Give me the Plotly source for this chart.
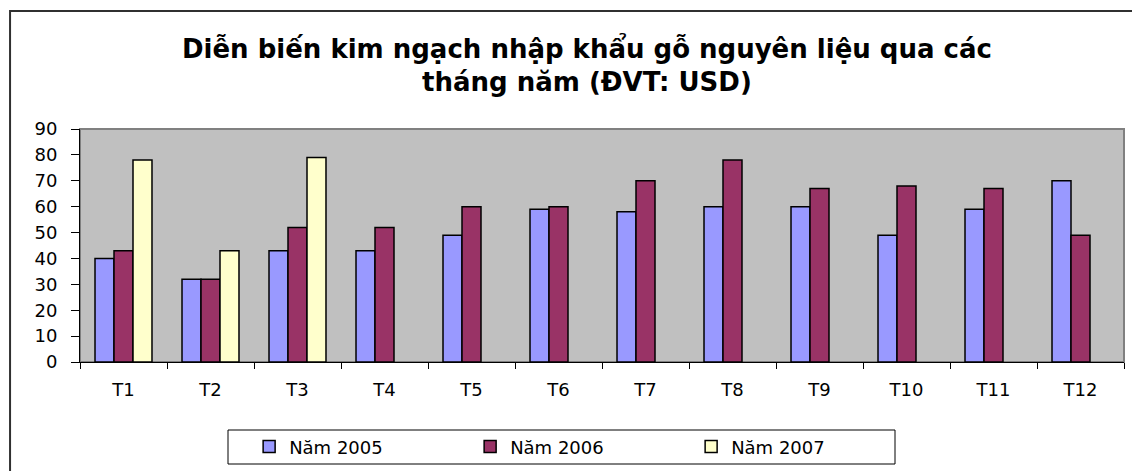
import plotly.graph_objects as go

# Monthly import values by year
months = ["T1", "T2", "T3", "T4", "T5", "T6", "T7", "T8", "T9", "T10", "T11", "T12"]
y2005 = [40, 32, 43, 43, 49, 59, 58, 60, 60, 49, 59, 70]
y2006 = [43, 32, 52, 52, 60, 60, 70, 78, 67, 68, 67, 49]
y2007 = [78, 43, 79, None, None, None, None, None, None, None, None, None]

series_names = ["Năm 2005", "Năm 2006", "Năm 2007"]
colors = ["#9999FF", "#993366", "#FFFFCC"]

FONT = "DejaVu Sans, Liberation Sans, Arial, sans-serif"

fig = go.Figure()
for name, vals, col in zip(series_names, [y2005, y2006, y2007], colors):
    fig.add_trace(go.Bar(
        x=months, y=vals, name=name,
        marker=dict(color=col, line=dict(color="black", width=1.5)),
    ))

# page body has an 8px margin, so the figure is a bit smaller than the window
fig.update_layout(
    width=1132, height=463,
    margin=dict(l=72, r=16, t=121, b=109),
    paper_bgcolor="white",
    plot_bgcolor="#C0C0C0",
    barmode="group",
    bargap=0.345,
    bargroupgap=0,
    font=dict(family=FONT, size=18, color="black"),
    title=dict(
        text="<b>Diễn biến kim ngạch nhập khẩu gỗ nguyên liệu qua các<br>tháng năm (ĐVT: USD)</b>",
        font=dict(family=FONT, size=26, color="black"),
        x=0.4856, xref="paper", xanchor="center",
        y=0.893, yref="container", yanchor="middle",
    ),
    showlegend=True,
    legend=dict(
        orientation="h",
        x=0.162, xanchor="left",
        y=0.052, yref="container", yanchor="middle",
        entrywidth=176, entrywidthmode="pixels",
        bgcolor="rgba(0,0,0,0)",
        font=dict(family=FONT, size=18),
        traceorder="normal",
        tracegroupgap=0,
    ),
    xaxis=dict(
        type="category",
        tickson="boundaries",
        ticks="outside", ticklen=6, tickcolor="black", tickwidth=1,
        showline=True, linecolor="black", linewidth=1,
        showgrid=False,
        ticklabelstandoff=11,
        tickfont=dict(family=FONT, size=18),
    ),
    yaxis=dict(
        range=[0, 90],
        tickvals=list(range(0, 91, 10)),
        ticks="outside", ticklen=8, tickcolor="black", tickwidth=1,
        showline=True, linecolor="black", linewidth=1,
        showgrid=False, zeroline=False,
        ticklabelstandoff=10,
        tickfont=dict(family=FONT, size=18),
    ),
    shapes=[
        # outer chart frame
        dict(type="rect", xref="paper", yref="paper",
             x0=-0.067, x1=1.03, y0=-0.5, y1=1.506,
             line=dict(color="#303030", width=2), layer="below"),
        # plot area border (top / right)
        dict(type="rect", xref="paper", yref="paper",
             x0=0, x1=1, y0=0, y1=1,
             line=dict(color="#808080", width=2), layer="below"),
        # legend box
        dict(type="rect", xref="paper", yref="paper",
             x0=(228 - 80) / 1044, x1=(895 - 80) / 1044,
             y0=(362 - 464) / 233, y1=(362 - 430) / 233,
             line=dict(color="black", width=1)),
    ],
)

fig.write_html("out.html")
